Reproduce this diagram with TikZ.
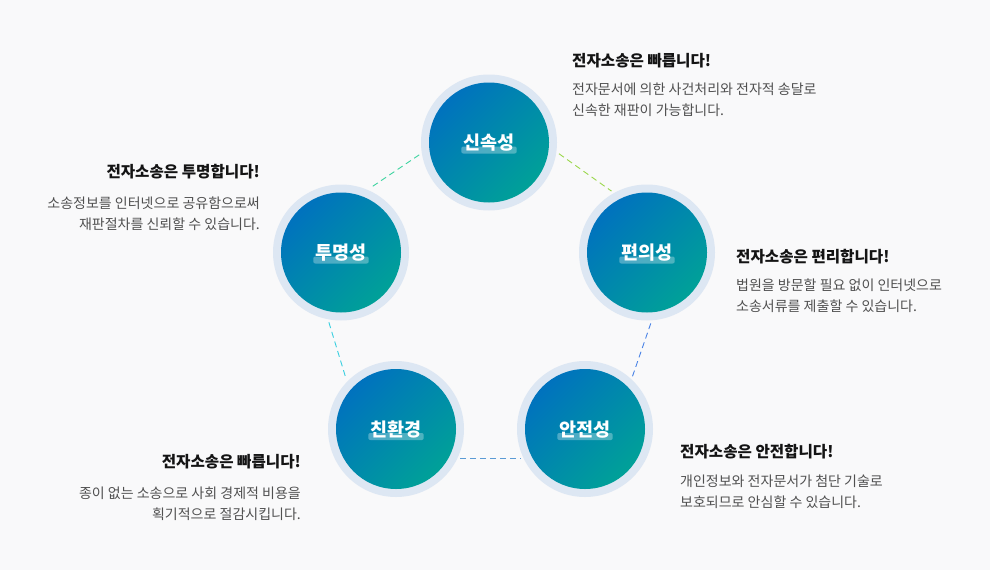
\documentclass[tikz,border=0pt]{standalone}
\usepackage{fontspec}
\setmainfont{Noto Sans CJK KR}
\usetikzlibrary{positioning}

\definecolor{bgc}{RGB}{249,249,250}
\definecolor{ringc}{RGB}{221,231,243}
\definecolor{gradA}{RGB}{0,114,190}
\definecolor{gradB}{RGB}{0,161,152}
\definecolor{titlec}{RGB}{20,20,20}
\definecolor{bodyc}{RGB}{80,80,80}
\definecolor{lkA}{RGB}{62,212,160}
\definecolor{lkB}{RGB}{155,215,75}
\definecolor{lkC}{RGB}{74,131,230}
\definecolor{lkD}{RGB}{57,207,224}
\definecolor{lkE}{RGB}{91,155,213}

\tikzset{
  ring/.style={circle,fill=ringc,minimum size=136pt,inner sep=0pt},
  core/.style={circle,minimum size=120pt,inner sep=0pt,top color=gradA,bottom color=gradB,shading angle=45},
  cname/.style={text=white,font=\fontsize{18.5}{20}\selectfont\bfseries,inner sep=0pt},
  bar/.style={fill=white,fill opacity=0.3,rounded corners=2pt},
  head/.style={font=\fontsize{15.6}{18}\selectfont\bfseries,text=titlec,inner sep=0pt},
  body/.style={font=\fontsize{14}{21}\selectfont,text=bodyc,inner sep=0pt},
  link/.style={dash pattern=on 6pt off 4pt,line width=0.9pt,shorten >=3pt,shorten <=3pt}
}

\begin{document}
\begin{tikzpicture}[x=1pt,y=-1pt]
\fill[bgc] (0,0) rectangle (990,570);

% circles
\node[ring] (sok) at (489,142.5) {};
\node[core] at (sok) {};
\node[ring] (tu) at (341,252.5) {};
\node[core] at (tu) {};
\node[ring] (pyeon) at (647,252.5) {};
\node[core] at (pyeon) {};
\node[ring] (chin) at (396,429) {};
\node[core] at (chin) {};
\node[ring] (an) at (585,429) {};
\node[core] at (an) {};

% dashed links
\draw[link,draw=lkA] (sok.189) -- (tu.67);
\draw[link,draw=lkB] (sok.-8) -- (pyeon.119);
\draw[link,draw=lkC] (pyeon.-86) -- (an.47);
\draw[link,draw=lkD] (tu.-101) -- (chin.136);
\draw[link,draw=lkE] (chin.-26) -- (an.206);

% circle labels
\node[cname,anchor=base] (sok-t) at (489,149.5) {신속성};
\fill[bar] ([shift={(-2,-3)}]sok-t.base west) rectangle ([shift={(2,4)}]sok-t.base east);
\node[cname,anchor=base] (tu-t) at (341,259.5) {투명성};
\fill[bar] ([shift={(-2,-3)}]tu-t.base west) rectangle ([shift={(2,4)}]tu-t.base east);
\node[cname,anchor=base] (pyeon-t) at (647,259.5) {편의성};
\fill[bar] ([shift={(-2,-3)}]pyeon-t.base west) rectangle ([shift={(2,4)}]pyeon-t.base east);
\node[cname,anchor=base] (chin-t) at (396,436) {친환경};
\fill[bar] ([shift={(-2,-3)}]chin-t.base west) rectangle ([shift={(2,4)}]chin-t.base east);
\node[cname,anchor=base] (an-t) at (585,436) {안전성};
\fill[bar] ([shift={(-2,-3)}]an-t.base west) rectangle ([shift={(2,4)}]an-t.base east);

% text blocks
\node[head,anchor=base west] (sok-h) at (572,66) {전자소송은 빠릅니다!};
\node[body,anchor=base west] (sok-b1) at (572,94) {전자문서에 의한 사건처리와 전자적 송달로};
\node[body,anchor=base west] (sok-b2) at (572,115) {신속한 재판이 가능합니다.};

\node[head,anchor=base east] (tu-h) at (260,177) {전자소송은 투명합니다!};
\node[body,anchor=base east] (tu-b1) at (260,208) {소송정보를 인터넷으로 공유함으로써};
\node[body,anchor=base east] (tu-b2) at (260,229) {재판절차를 신뢰할 수 있습니다.};

\node[head,anchor=base west] (pyeon-h) at (736,262) {전자소송은 편리합니다!};
\node[body,anchor=base west] (pyeon-b1) at (736,290) {법원을 방문할 필요 없이 인터넷으로};
\node[body,anchor=base west] (pyeon-b2) at (736,311) {소송서류를 제출할 수 있습니다.};

\node[head,anchor=base east] (chin-h) at (301,467) {전자소송은 빠릅니다!};
\node[body,anchor=base east] (chin-b1) at (301,498) {종이 없는 소송으로 사회 경제적 비용을};
\node[body,anchor=base east] (chin-b2) at (301,519) {획기적으로 절감시킵니다.};

\node[head,anchor=base west] (an-h) at (680,457) {전자소송은 안전합니다!};
\node[body,anchor=base west] (an-b1) at (680,486) {개인정보와 전자문서가 첨단 기술로};
\node[body,anchor=base west] (an-b2) at (680,507) {보호되므로 안심할 수 있습니다.};

\end{tikzpicture}
\end{document}
